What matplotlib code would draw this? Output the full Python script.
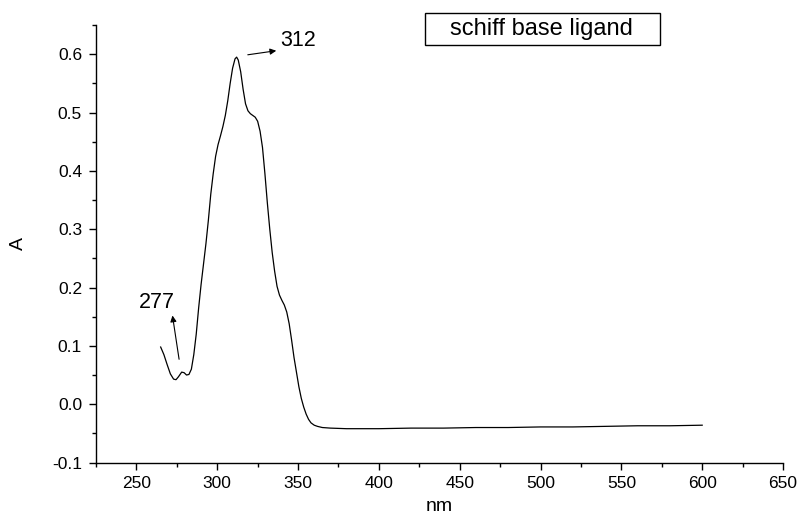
import matplotlib
matplotlib.use("Agg")
import matplotlib.pyplot as plt
from matplotlib.patches import Rectangle
from matplotlib.ticker import MultipleLocator, FormatStrFormatter

plt.rcParams['font.family'] = ['Liberation Sans', 'DejaVu Sans']

# Data
wavelength = [265, 267, 269, 271, 273, 274.5, 276, 278, 279.5, 281, 282.5, 284,
              285.5, 287, 288.5, 290, 291.5, 293, 294.5, 296, 297.5, 299, 300.5,
              302, 303.5, 305, 306.5, 308, 309.5, 311, 312, 313, 314.5, 316,
              317.5, 319, 320.5, 322, 323.5, 325, 326.5, 328, 329.5, 331, 332.5,
              334, 335.5, 337, 338.5, 340, 341.5, 343, 344.5, 346, 347.5, 349,
              350.5, 352, 353.5, 355, 356.5, 358, 360, 362, 365, 370, 380, 390,
              400, 420, 440, 460, 480, 500, 520, 540, 560, 580, 600]
absorbance = [0.098, 0.085, 0.068, 0.052, 0.043, 0.042, 0.047, 0.055, 0.054,
              0.050, 0.051, 0.060, 0.085, 0.120, 0.165, 0.205, 0.240, 0.275,
              0.315, 0.360, 0.395, 0.425, 0.445, 0.460, 0.476, 0.495, 0.520,
              0.550, 0.576, 0.592, 0.595, 0.590, 0.570, 0.540, 0.515, 0.503,
              0.498, 0.495, 0.492, 0.485, 0.468, 0.440, 0.395, 0.345, 0.300,
              0.260, 0.228, 0.202, 0.187, 0.178, 0.170, 0.158, 0.138, 0.110,
              0.080, 0.055, 0.030, 0.010, -0.005, -0.017, -0.026, -0.032,
              -0.036, -0.038, -0.040, -0.041, -0.042, -0.042, -0.042, -0.041,
              -0.041, -0.040, -0.040, -0.039, -0.039, -0.038, -0.037, -0.037,
              -0.036]

peak_labels = ["312", "277"]
legend_label = "schiff base ligand"

fig = plt.figure(figsize=(8.04, 5.25), dpi=100)
ax = fig.add_axes([0.1194, 0.1190, 0.8545, 0.8333])

ax.plot(wavelength, absorbance, color='black', lw=0.9)

ax.set_xlim(225, 650)
ax.set_ylim(-0.1, 0.65)
ax.xaxis.set_major_locator(MultipleLocator(50))
ax.xaxis.set_minor_locator(MultipleLocator(25))
ax.yaxis.set_major_locator(MultipleLocator(0.1))
ax.yaxis.set_minor_locator(MultipleLocator(0.05))
ax.yaxis.set_major_formatter(FormatStrFormatter('%.1f'))

for s in ['top', 'right']:
    ax.spines[s].set_visible(False)
for s in ['left', 'bottom']:
    ax.spines[s].set_linewidth(1.0)

ax.tick_params(which='major', direction='out', length=5, width=1.0,
               labelsize=12.5, pad=5)
ax.tick_params(which='minor', direction='out', length=3, width=1.0)
ax.tick_params(axis='x', which='major', pad=5)

ax.set_xlabel('nm', fontsize=14, labelpad=5)
ax.set_ylabel('A', fontsize=14, labelpad=18)

# Annotations
ax.annotate('', xy=(336.5, 0.606), xytext=(318.9, 0.599),
            arrowprops=dict(arrowstyle='-|>', color='black', lw=0.8,
                            mutation_scale=9, shrinkA=0, shrinkB=0))
ax.text(338.8, 0.624, peak_labels[0], fontsize=15.5, ha='left', va='center')

ax.annotate('', xy=(272.3, 0.152), xytext=(276.4, 0.077),
            arrowprops=dict(arrowstyle='-|>', color='black', lw=0.8,
                            mutation_scale=9, shrinkA=0, shrinkB=0))
ax.text(262.5, 0.174, peak_labels[1], fontsize=15.5, ha='center', va='center')

# Legend box (figure coordinates)
fig.patches.append(Rectangle((0.5286, 0.9143), 0.2923, 0.0615,
                             transform=fig.transFigure, fill=False,
                             edgecolor='black', lw=1.0))
fig.text(0.6735, 0.9440, legend_label, fontsize=17, ha='center', va='center')

fig.savefig('out.png', dpi=100)
